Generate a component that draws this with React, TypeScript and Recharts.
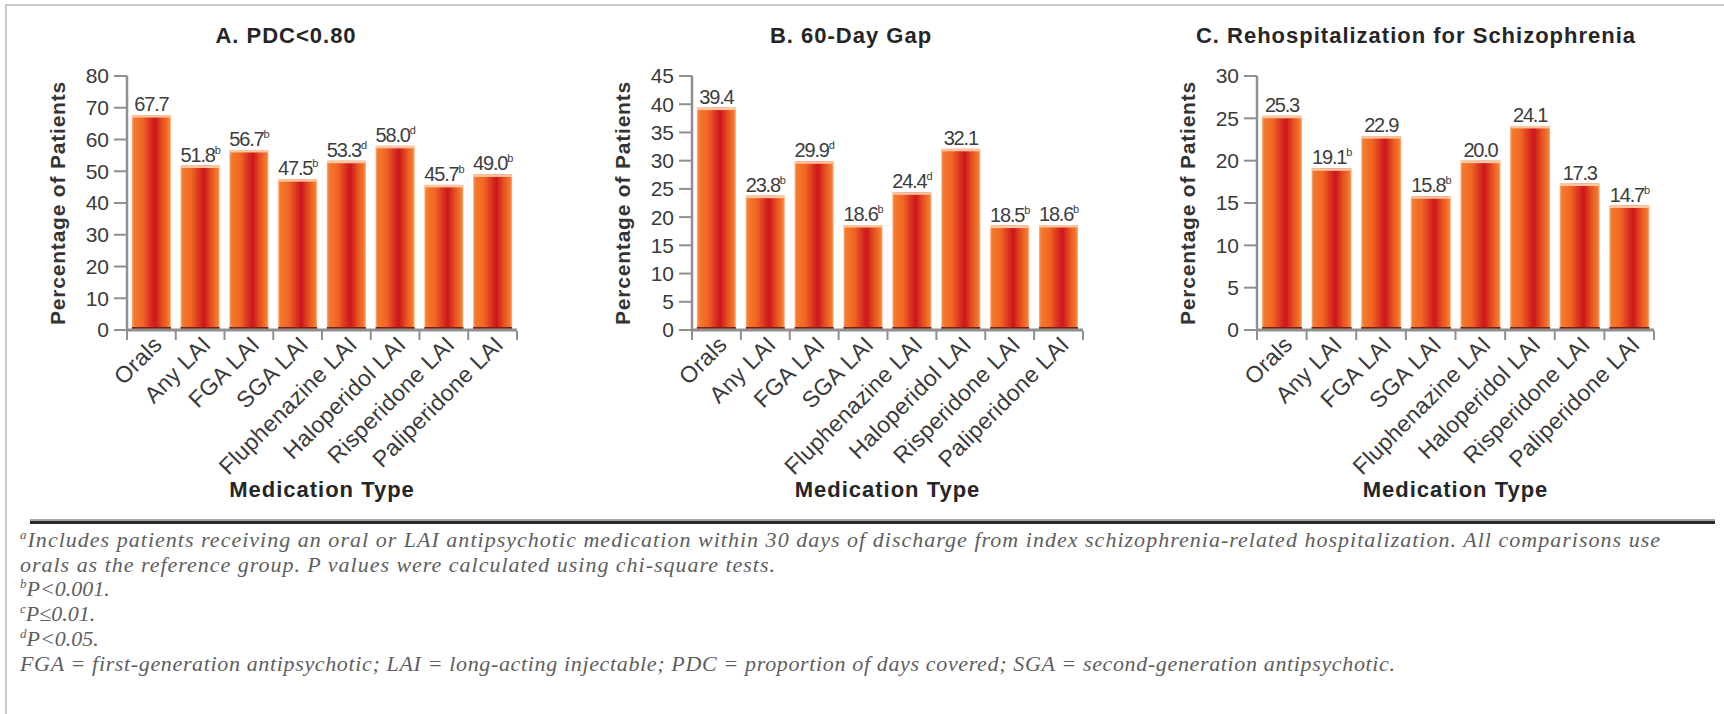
import { BarChart, Bar, XAxis, YAxis, LabelList } from "recharts";

const categories = [
  "Orals",
  "Any LAI",
  "FGA LAI",
  "SGA LAI",
  "Fluphenazine LAI",
  "Haloperidol LAI",
  "Risperidone LAI",
  "Paliperidone LAI",
];

const pdcValues = [67.7, 51.8, 56.7, 47.5, 53.3, 58.0, 45.7, 49.0];
const pdcNotes = ["", "b", "b", "b", "d", "d", "b", "b"];
const pdcTicks = [0, 10, 20, 30, 40, 50, 60, 70, 80];

const gapValues = [39.4, 23.8, 29.9, 18.6, 24.4, 32.1, 18.5, 18.6];
const gapNotes = ["", "b", "d", "b", "d", "", "b", "b"];
const gapTicks = [0, 5, 10, 15, 20, 25, 30, 35, 40, 45];

const rehospValues = [25.3, 19.1, 22.9, 15.8, 20.0, 24.1, 17.3, 14.7];
const rehospNotes = ["", "b", "", "b", "", "", "", "b"];
const rehospTicks = [0, 5, 10, 15, 20, 25, 30];

const SANS = '"Liberation Sans", Arial, Helvetica, sans-serif';
const SERIF = '"Liberation Serif", "Times New Roman", serif';
const AXIS_GRAY = "#8f8f8f";

const CHART_W = 565;
const CHART_H = 505;
const Y_AXIS_W = 117;

const GradientBar = (props: any) => {
  const { x, y, width, height, gradId } = props;
  if (!height || height <= 0) return null;
  return (
    <g>
      <rect x={x} y={y} width={width} height={height} fill={`url(#${gradId})`} />
      <rect x={x} y={y} width={width} height={2.5} fill="#fcc6a0" />
      <rect x={x} y={y + height - 3} width={width} height={3} fill="#7e1d12" />
    </g>
  );
};

const makeValueLabel = (notes: string[]) => (props: any) => {
  const { x, y, width, value, index } = props;
  const note = notes[index];
  return (
    <text
      x={x + width / 2}
      y={y - 4}
      textAnchor="middle"
      fill="#3d3d3d"
      fontSize={20}
      style={{ letterSpacing: -1.2 }}
    >
      {Number(value).toFixed(1)}
      {note ? (
        <tspan fontSize={11} dy={-8}>
          {note}
        </tspan>
      ) : null}
    </text>
  );
};

const makeCategoryTick = (half: number, count: number) => (props: any) => {
  const { x, y, payload, index } = props;
  const h = payload && payload.offset ? payload.offset : half;
  const tx = x + 12;
  const ty = y + 16;
  return (
    <g>
      <line x1={x - h} x2={x - h} y1={y + 1} y2={y + 10} stroke={AXIS_GRAY} strokeWidth={2} />
      {index === count - 1 ? (
        <line x1={x + h} x2={x + h} y1={y + 1} y2={y + 10} stroke={AXIS_GRAY} strokeWidth={2} />
      ) : null}
      <text
        x={tx}
        y={ty}
        transform={`rotate(-45 ${tx} ${ty})`}
        textAnchor="end"
        fill="#3a3a3a"
        fontSize={23}
        style={{ letterSpacing: 0.3 }}
      >
        {payload.value}
      </text>
    </g>
  );
};

const YTitle = (props: any) => {
  const vb = props.viewBox;
  const cx = vb.x + 47;
  const cy = vb.y + vb.height / 2;
  return (
    <text
      x={cx}
      y={cy}
      transform={`rotate(-90 ${cx} ${cy})`}
      textAnchor="middle"
      dominantBaseline="central"
      fill="#333"
      fontSize={21}
      fontWeight="bold"
      style={{ letterSpacing: 0.8 }}
    >
      Percentage of Patients
    </text>
  );
};

const XTitle = (props: any) => {
  const vb = props.viewBox;
  return (
    <text
      x={vb.x + vb.width / 2}
      y={vb.y + 167}
      textAnchor="middle"
      fill="#262626"
      fontSize={22}
      fontWeight="bold"
      style={{ letterSpacing: 1 }}
    >
      Medication Type
    </text>
  );
};

type PanelProps = {
  id: string;
  title: string;
  values: number[];
  notes: string[];
  ticks: number[];
  rightMargin: number;
  left: number;
};

const Panel = ({ id, title, values, notes, ticks, rightMargin, left }: PanelProps) => {
  const data = categories.map((name, i) => ({ name, value: values[i] }));
  const plotW = CHART_W - Y_AXIS_W - rightMargin;
  const half = plotW / categories.length / 2;
  const gradId = `barFill-${id}`;

  return (
    <div style={{ position: "absolute", left, top: 0, width: CHART_W, height: CHART_H }}>
      <div
        style={{
          position: "absolute",
          left: 0,
          top: 22,
          width: 552,
          height: 28,
          lineHeight: "28px",
          textAlign: "center",
          fontSize: 22,
          fontWeight: "bold",
          letterSpacing: 1,
          color: "#262626",
        }}
      >
        {title}
      </div>
      <BarChart
        width={CHART_W}
        height={CHART_H}
        data={data}
        margin={{ top: 76, right: rightMargin, left: 0, bottom: 0 }}
        barCategoryGap="10%"
      >
        <defs>
          <linearGradient id={gradId} x1="0" y1="0" x2="1" y2="0">
            <stop offset="0%" stopColor="#fbb588" />
            <stop offset="5%" stopColor="#f57a2c" />
            <stop offset="28%" stopColor="#ef6624" />
            <stop offset="48%" stopColor="#d9301f" />
            <stop offset="60%" stopColor="#cc161c" />
            <stop offset="78%" stopColor="#e5501f" />
            <stop offset="95%" stopColor="#f57a2c" />
            <stop offset="100%" stopColor="#fbb588" />
          </linearGradient>
        </defs>
        <XAxis
          dataKey="name"
          type="category"
          interval={0}
          height={CHART_H - 76 - 254}
          tickSize={0}
          tickMargin={0}
          tickLine={false}
          axisLine={{ stroke: AXIS_GRAY, strokeWidth: 3 }}
          tick={makeCategoryTick(half, categories.length)}
          label={{ content: XTitle }}
        />
        <YAxis
          type="number"
          width={Y_AXIS_W}
          domain={[0, ticks[ticks.length - 1]]}
          ticks={ticks}
          interval={0}
          tickSize={13}
          tickMargin={5}
          tickLine={{ stroke: AXIS_GRAY, strokeWidth: 2 }}
          axisLine={{ stroke: AXIS_GRAY, strokeWidth: 2.5 }}
          tick={{ fill: "#3a3a3a", fontSize: 21 }}
          label={{ content: YTitle }}
        />
        <Bar
          dataKey="value"
          isAnimationActive={false}
          shape={(p: any) => <GradientBar {...p} gradId={gradId} />}
        >
          <LabelList dataKey="value" content={makeValueLabel(notes)} />
        </Bar>
      </BarChart>
    </div>
  );
};

const footLines = [
  {
    sup: "a",
    text: "Includes patients receiving an oral or LAI antipsychotic medication within 30 days of discharge from index schizophrenia-related hospitalization. All comparisons use",
    width: 1640,
  },
  { sup: "", text: "orals as the reference group. P values were calculated using chi-square tests.", width: 755 },
  { sup: "b", text: "P<0.001.", width: 0 },
  { sup: "c", text: "P≤0.01.", width: 0 },
  { sup: "d", text: "P<0.05.", width: 0 },
  {
    sup: "",
    text: "FGA = first-generation antipsychotic; LAI = long-acting injectable; PDC = proportion of days covered; SGA = second-generation antipsychotic.",
    width: 1375,
  },
];

const App = () => {
  return (
    <div
      style={{
        position: "absolute",
        left: 0,
        top: 0,
        width: 1724,
        height: 714,
        background: "#ffffff",
        overflow: "hidden",
        fontFamily: SANS,
      }}
    >
      <div style={{ position: "absolute", left: 5, top: 4, right: 0, height: 2, background: "#c9c9c9" }} />
      <div style={{ position: "absolute", left: 5, top: 4, width: 2, bottom: 0, background: "#c9c9c9" }} />

      <Panel id="a" title="A. PDC<0.80" values={pdcValues} notes={pdcNotes} ticks={pdcTicks} rightMargin={58} left={10} />
      <Panel id="b" title="B. 60-Day Gap" values={gapValues} notes={gapNotes} ticks={gapTicks} rightMargin={57} left={575} />
      <Panel
        id="c"
        title="C. Rehospitalization for Schizophrenia"
        values={rehospValues}
        notes={rehospNotes}
        ticks={rehospTicks}
        rightMargin={51}
        left={1140}
      />

      <div style={{ position: "absolute", left: 30, top: 519, width: 1685, height: 2, background: "#a8a8a8" }} />
      <div style={{ position: "absolute", left: 30, top: 521, width: 1685, height: 3, background: "#2b2b2b" }} />

      <svg style={{ position: "absolute", left: 0, top: 525 }} width={1724} height={189}>
        {footLines.map((line, i) => (
          <text
            key={i}
            x={20}
            y={22 + i * 24.7}
            fill="#5e5e5e"
            fontSize={22}
            fontStyle="italic"
            fontFamily={SERIF}
            textLength={line.width || undefined}
            lengthAdjust={line.width ? "spacing" : undefined}
          >
            {line.sup ? (
              <tspan fontSize={13} dy={-8}>
                {line.sup}
              </tspan>
            ) : null}
            <tspan dy={line.sup ? 8 : 0}>{line.text}</tspan>
          </text>
        ))}
      </svg>
    </div>
  );
};

export default App;
